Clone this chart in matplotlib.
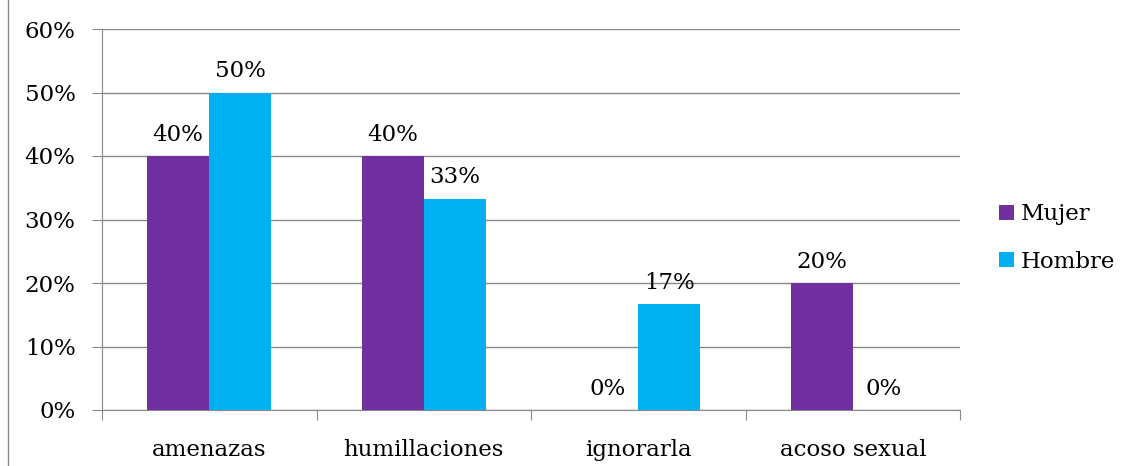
import matplotlib.pyplot as plt
import numpy as np

categorias = ["amenazas", "humillaciones", "ignorarla", "acoso sexual"]
mujer = [40, 40, 0, 20]
hombre = [50, 33.3, 16.7, 0]
etiquetas_mujer = ["40%", "40%", "0%", "20%"]
etiquetas_hombre = ["50%", "33%", "17%", "0%"]
y_ticks = [0, 10, 20, 30, 40, 50, 60]

plt.rcParams['font.family'] = ['DejaVu Serif']
fs = 16.5

fig = plt.figure(figsize=(11.25, 4.66), dpi=100)
ax = fig.add_axes([102/1125, 1 - 410/466, (960-102)/1125, (410-29)/466])

x = np.arange(len(categorias))
w = 0.29
b1 = ax.bar(x - w/2, mujer, w, color='#7030A0', label='Mujer', zorder=3)
b2 = ax.bar(x + w/2, hombre, w, color='#00B0F0', label='Hombre', zorder=3)

for rect, t in zip(b1, etiquetas_mujer):
    ax.text(rect.get_x() + rect.get_width()/2, rect.get_height() + 2.4, t,
            ha='center', va='baseline', fontsize=fs)
for rect, t in zip(b2, etiquetas_hombre):
    ax.text(rect.get_x() + rect.get_width()/2, rect.get_height() + 2.4, t,
            ha='center', va='baseline', fontsize=fs)

ax.set_xlim(-0.5, len(categorias) - 0.5)
ax.set_ylim(0, 60)
ax.set_yticks(y_ticks)
ax.set_yticklabels([f"{v}%" for v in y_ticks], fontsize=fs)
ax.yaxis.grid(True, color='#888888', linewidth=1, zorder=0)

ax.set_xticks(np.arange(-0.5, len(categorias), 1.0))
ax.set_xticklabels([])
ax.set_xticks(x, minor=True)
ax.set_xticklabels(categorias, minor=True, fontsize=fs)
ax.tick_params(axis='x', which='major', length=7, color='#888888', direction='out')
ax.tick_params(axis='x', which='minor', length=0, pad=21)
ax.tick_params(axis='y', length=7, color='#888888', pad=12)

for s in ['top', 'right']:
    ax.spines[s].set_visible(False)
ax.spines['left'].set_color('#888888')
ax.spines['bottom'].set_color('#888888')

ax.legend(loc='center left', bbox_to_anchor=(978/1125, 1 - 238/466),
          bbox_transform=fig.transFigure, frameon=False,
          fontsize=fs, handlelength=0.65, handleheight=0.65, handletextpad=0.3,
          labelspacing=1.1)

fig.add_artist(plt.Line2D([8/1125, 8/1125], [0, 1], color='#888888', linewidth=1,
                          transform=fig.transFigure))

fig.savefig('out.png', dpi=100)
